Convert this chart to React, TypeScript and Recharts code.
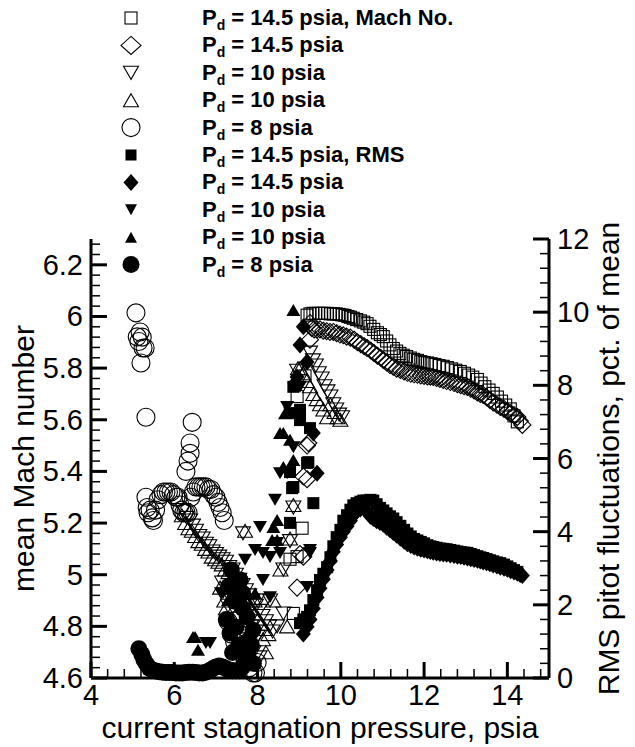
import React from "react";
import { ScatterChart, Scatter, XAxis, YAxis, Legend, Label } from "recharts";

type Pt = [number, number];

const FONT = "'Liberation Sans', Arial, Helvetica, sans-serif";

// current stagnation pressure (psia) vs mean Mach number
const machSq145: Pt[] = [
  [8.86, 4.85], [8.78, 5.06], [8.95, 5.07], [9.07, 5.18], [8.95, 5.69], [9.14, 5.77],
  [9.19, 6.005], [9.26, 6.01], [9.33, 6.012], [9.4, 6.012], [9.47, 6.012], [9.54, 6.012],
  [9.61, 6.012], [9.68, 6.012], [9.75, 6.01], [9.82, 6.01], [9.89, 6.01], [9.96, 6.008],
  [10.03, 6.006], [10.1, 6.004], [10.17, 6.0], [10.23, 5.997], [10.3, 5.993], [10.38, 5.988],
  [10.47, 5.983], [10.55, 5.978], [10.63, 5.972], [10.7, 5.962], [10.79, 5.95], [10.88, 5.937],
  [10.95, 5.93], [11.02, 5.922], [11.1, 5.905], [11.18, 5.89], [11.26, 5.876], [11.34, 5.866],
  [11.42, 5.857], [11.5, 5.85], [11.58, 5.845], [11.67, 5.839], [11.75, 5.834], [11.84, 5.83],
  [11.92, 5.825], [12.0, 5.822], [12.08, 5.82], [12.17, 5.817], [12.26, 5.814], [12.36, 5.81],
  [12.46, 5.807], [12.56, 5.802], [12.66, 5.797], [12.76, 5.792], [12.87, 5.787], [12.97, 5.78],
  [13.07, 5.773], [13.17, 5.765], [13.28, 5.756], [13.37, 5.742], [13.46, 5.728], [13.56, 5.715],
  [13.66, 5.702], [13.76, 5.688], [13.86, 5.672], [13.96, 5.657], [14.07, 5.642], [14.16, 5.615],
  [14.24, 5.592],
];

const machDi145: Pt[] = [
  [8.95, 4.95], [9.02, 5.08], [9.1, 5.07], [9.1, 5.38], [9.19, 5.37], [9.22, 5.51], [9.19, 5.5],
  [9.26, 5.91], [9.26, 5.975], [9.3, 5.955], [9.36, 5.95], [9.43, 5.95], [9.5, 5.95], [9.58, 5.945],
  [9.66, 5.943], [9.74, 5.94], [9.82, 5.94], [9.9, 5.935], [9.98, 5.93], [10.06, 5.927],
  [10.14, 5.922], [10.23, 5.918], [10.32, 5.91], [10.4, 5.9], [10.48, 5.893], [10.56, 5.885],
  [10.63, 5.878], [10.72, 5.868], [10.8, 5.858], [10.88, 5.848], [10.96, 5.84], [11.02, 5.832],
  [11.1, 5.822], [11.18, 5.812], [11.26, 5.805], [11.34, 5.798], [11.43, 5.793], [11.52, 5.787],
  [11.6, 5.782], [11.68, 5.778], [11.76, 5.776], [11.84, 5.774], [11.92, 5.772], [12.0, 5.77],
  [12.08, 5.768], [12.15, 5.767], [12.22, 5.766], [12.3, 5.762], [12.38, 5.758], [12.46, 5.754],
  [12.54, 5.75], [12.63, 5.746], [12.72, 5.742], [12.8, 5.738], [12.88, 5.734], [12.96, 5.73],
  [13.04, 5.727], [13.12, 5.72], [13.2, 5.713], [13.28, 5.706], [13.35, 5.7], [13.42, 5.696],
  [13.5, 5.687], [13.58, 5.677], [13.66, 5.667], [13.75, 5.658], [13.83, 5.65], [13.92, 5.642],
  [14.0, 5.633], [14.08, 5.625], [14.16, 5.618], [14.24, 5.611], [14.3, 5.595], [14.36, 5.58],
];

const machDn10: Pt[] = [
  [6.21, 5.25], [6.3, 5.22], [6.38, 5.21], [6.45, 5.19], [6.52, 5.17], [6.6, 5.15], [6.68, 5.14],
  [6.76, 5.12], [6.84, 5.11], [6.92, 5.09], [7.0, 5.08], [7.08, 5.07], [7.16, 5.06], [7.24, 5.05],
  [7.32, 5.03], [7.4, 5.02], [7.48, 5.0], [7.56, 4.98], [7.64, 4.96], [7.72, 4.94], [7.8, 4.92],
  [7.88, 4.9], [7.96, 4.88], [8.04, 4.86], [8.12, 4.84], [8.2, 4.82], [8.28, 4.8], [8.36, 4.78],
  [7.29, 4.88], [7.65, 5.16], [7.99, 4.9], [8.3, 4.9], [8.47, 4.8], [8.62, 5.02], [8.78, 5.13],
  [8.86, 5.26], [8.62, 4.85], [7.9, 4.7], [8.05, 4.68], [8.95, 5.79],
  [7.15, 4.97], [7.45, 4.9], [7.55, 4.83], [7.85, 4.8], [8.0, 4.76],
  [9.26, 5.86], [9.33, 5.83], [9.4, 5.81], [9.47, 5.78], [9.54, 5.76], [9.61, 5.73], [9.68, 5.71],
  [9.75, 5.69], [9.82, 5.66], [9.89, 5.64], [9.96, 5.62], [10.03, 5.61],
];

const machUp10: Pt[] = [
  [6.18, 5.23], [6.26, 5.2], [6.34, 5.18], [6.42, 5.17], [6.5, 5.15], [6.58, 5.13], [6.66, 5.12],
  [6.74, 5.1], [6.82, 5.09], [6.9, 5.07], [6.98, 5.06], [7.06, 5.05], [7.14, 5.04], [7.22, 5.02],
  [7.3, 5.01], [7.38, 4.99], [7.46, 4.97], [7.54, 4.95], [7.62, 4.93], [7.7, 4.91], [7.78, 4.89],
  [7.86, 4.87], [7.94, 4.85], [8.02, 4.83], [8.1, 4.81], [8.18, 4.79], [8.26, 4.77], [8.13, 4.75],
  [7.24, 4.87], [7.7, 5.17], [7.93, 4.9], [8.38, 4.9], [8.55, 5.02], [8.78, 5.14], [8.86, 5.27],
  [8.71, 4.8], [7.75, 4.72], [8.2, 4.7], [8.97, 5.8],
  [7.1, 4.95], [7.2, 4.9], [7.5, 4.85], [7.6, 4.8], [7.8, 4.78],
  [9.02, 5.8], [9.1, 5.78], [9.18, 5.75], [9.26, 5.73], [9.34, 5.7], [9.42, 5.68], [9.5, 5.66],
  [9.58, 5.64], [9.67, 5.61], [9.75, 5.66], [9.85, 5.63], [9.92, 5.61], [9.99, 5.6],
];

const machCi8: Pt[] = [
  [5.08, 6.014], [5.18, 5.94], [5.11, 5.921], [5.15, 5.903], [5.23, 5.92], [5.25, 5.878],
  [5.3, 5.878], [5.2, 5.82], [5.32, 5.61], [5.32, 5.3], [5.35, 5.26], [5.37, 5.24], [5.42, 5.25],
  [5.47, 5.22], [5.5, 5.21], [5.55, 5.25], [5.61, 5.29], [5.68, 5.31], [5.74, 5.32], [5.8, 5.32],
  [5.86, 5.32], [5.92, 5.32], [5.98, 5.31], [6.04, 5.3], [6.09, 5.3], [6.14, 5.27], [6.18, 5.25],
  [6.23, 5.24], [6.28, 5.24], [6.33, 5.24], [6.28, 5.4], [6.33, 5.44], [6.38, 5.47], [6.38, 5.51],
  [6.43, 5.59], [6.4, 5.3], [6.46, 5.32], [6.52, 5.34], [6.58, 5.34], [6.64, 5.34], [6.7, 5.34],
  [6.76, 5.34], [6.82, 5.33], [6.88, 5.33], [6.94, 5.31], [7.0, 5.3], [7.05, 5.28], [7.1, 5.26],
  [7.15, 5.24], [7.2, 5.21], [7.29, 4.82], [7.37, 4.77], [7.45, 4.74], [7.6, 4.7], [7.7, 4.67],
  [7.8, 4.64], [7.89, 4.62], [7.99, 4.66], [7.95, 4.62],
];

// current stagnation pressure (psia) vs RMS pitot fluctuations (pct. of mean)
const rmsSq145: Pt[] = [
  [8.86, 7.96], [8.95, 7.24], [9.02, 7.33], [9.02, 7.05], [9.26, 6.83], [9.19, 5.88], [9.22, 5.9],
  [8.78, 5.63], [8.83, 5.19], [8.86, 5.22], [9.34, 4.78], [8.78, 4.24],
  [9.02, 1.5], [9.1, 1.6], [9.19, 1.67], [9.26, 1.85], [9.34, 2.13], [9.43, 2.4], [9.5, 2.68],
  [9.58, 2.85], [9.67, 3.03], [9.75, 3.3], [9.82, 3.6], [9.9, 3.85], [9.99, 4.05], [10.06, 4.3],
  [10.15, 4.45], [10.23, 4.6], [10.3, 4.72], [10.38, 4.78], [10.47, 4.82], [10.54, 4.85],
  [10.62, 4.85], [10.71, 4.87], [10.78, 4.85], [10.86, 4.75], [10.94, 4.65], [11.02, 4.58],
  [11.1, 4.5], [11.18, 4.42], [11.26, 4.36], [11.34, 4.26], [11.43, 4.16], [11.52, 4.05],
  [11.6, 3.95], [11.68, 3.87], [11.76, 3.8], [11.84, 3.76], [11.92, 3.72], [12.0, 3.68],
  [12.08, 3.63], [12.15, 3.6], [12.22, 3.58], [12.3, 3.56], [12.38, 3.54], [12.46, 3.53],
  [12.54, 3.52], [12.63, 3.5], [12.72, 3.48], [12.8, 3.46], [12.88, 3.44], [12.96, 3.43],
  [13.04, 3.42], [13.12, 3.39], [13.2, 3.36], [13.28, 3.33], [13.35, 3.3], [13.42, 3.28],
  [13.5, 3.25], [13.58, 3.22], [13.66, 3.19], [13.75, 3.16], [13.83, 3.14], [13.92, 3.1],
  [14.0, 3.05], [14.08, 3.0], [14.16, 2.95], [14.24, 2.9],
];

const rmsDi145: Pt[] = [
  [9.1, 9.6], [9.02, 9.1], [9.19, 8.64], [8.95, 8.23], [8.9, 8.06], [9.34, 6.7], [9.43, 5.6],
  [9.1, 1.2], [9.19, 1.4], [9.26, 1.6], [9.34, 1.9], [9.43, 2.2], [9.5, 2.45], [9.58, 2.7],
  [9.67, 2.95], [9.75, 3.2], [9.82, 3.45], [9.9, 3.65], [9.99, 3.85], [10.06, 4.0], [10.15, 4.15],
  [10.23, 4.3], [10.3, 4.45], [10.38, 4.55], [10.47, 4.62], [10.54, 4.66], [10.62, 4.55],
  [10.71, 4.42], [10.78, 4.36], [10.86, 4.3], [10.94, 4.25], [11.02, 4.2], [11.1, 4.12],
  [11.18, 4.05], [11.26, 3.98], [11.34, 3.9], [11.43, 3.82], [11.52, 3.74], [11.6, 3.67],
  [11.68, 3.62], [11.76, 3.58], [11.84, 3.55], [11.92, 3.52], [12.0, 3.5], [12.08, 3.48],
  [12.15, 3.46], [12.22, 3.44], [12.3, 3.42], [12.38, 3.4], [12.46, 3.39], [12.54, 3.38],
  [12.63, 3.36], [12.72, 3.35], [12.8, 3.33], [12.88, 3.32], [12.96, 3.3], [13.04, 3.28],
  [13.12, 3.26], [13.2, 3.24], [13.28, 3.22], [13.35, 3.2], [13.42, 3.17], [13.5, 3.15],
  [13.58, 3.12], [13.66, 3.09], [13.75, 3.06], [13.83, 3.03], [13.92, 3.0], [14.0, 2.97],
  [14.08, 2.93], [14.16, 2.9], [14.24, 2.86], [14.31, 2.83], [14.36, 2.8],
];

const rmsDn10: Pt[] = [
  [8.42, 4.87], [8.06, 4.13], [9.26, 3.42], [8.71, 7.41], [8.54, 5.6], [9.26, 3.5], [8.54, 3.42],
  [7.17, 2.32], [6.86, 0.96], [6.76, 0.96], [8.78, 7.24], [8.86, 6.31], [8.71, 5.6], [8.3, 3.31],
  [8.47, 3.69], [8.13, 2.68], [8.13, 3.42], [8.3, 2.21], [9.19, 2.49], [9.02, 7.96], [7.7, 3.23],
  [7.12, 2.32], [7.94, 3.5],
];

const rmsUp10: Pt[] = [
  [8.86, 10.06], [8.66, 7.24], [8.62, 6.7], [8.86, 5.96], [8.47, 4.32], [8.35, 3.77], [6.5, 1.12],
  [6.57, 0.77], [8.78, 6.51], [8.54, 6.7], [8.38, 4.13], [8.47, 3.77], [6.45, 1.12], [8.62, 5.77],
  [7.29, 2.13], [7.94, 2.32],
];

const rmsCi8: Pt[] = [
  [5.15, 0.8], [5.22, 0.65], [5.27, 0.5], [5.33, 0.38], [5.4, 0.27], [5.48, 0.22], [5.56, 0.19],
  [5.64, 0.17], [5.72, 0.16], [5.8, 0.15], [5.88, 0.15], [5.96, 0.15], [6.04, 0.14], [6.12, 0.14],
  [6.2, 0.14], [6.28, 0.15], [6.36, 0.16], [6.44, 0.16], [6.52, 0.15], [6.6, 0.14], [6.68, 0.14],
  [6.76, 0.16], [6.84, 0.2], [6.92, 0.25], [7.0, 0.3], [7.08, 0.33], [7.16, 0.3], [7.24, 0.26],
  [7.32, 0.22], [7.4, 0.2], [7.48, 0.2], [7.56, 0.2], [7.64, 0.3], [7.71, 0.45], [7.77, 0.68],
  [7.75, 1.0], [7.75, 1.67], [7.64, 2.32], [7.58, 2.68], [7.37, 2.95], [7.34, 1.23], [7.48, 1.39],
  [7.89, 1.31], [7.3, 2.5], [7.45, 2.1], [7.25, 1.6], [7.4, 0.7], [7.55, 0.9], [7.65, 1.9],
  [7.85, 0.9], [7.9, 0.4],
];

// axis tick labels
const xMajor = [4, 6, 8, 10, 12, 14];
const machMajor = [4.6, 4.8, 5, 5.2, 5.4, 5.6, 5.8, 6, 6.2];
const rmsMajor = [0, 2, 4, 6, 8, 10, 12];

type Kind = "square" | "diamond" | "triDown" | "triUp" | "circle";

interface SeriesDef {
  name: string;
  points: Pt[];
  kind: Kind;
  filled: boolean;
  axis: "mach" | "rms";
}

const series: SeriesDef[] = [
  { name: " = 14.5 psia, Mach No.", points: machSq145, kind: "square", filled: false, axis: "mach" },
  { name: " = 14.5 psia", points: machDi145, kind: "diamond", filled: false, axis: "mach" },
  { name: " = 10 psia", points: machDn10, kind: "triDown", filled: false, axis: "mach" },
  { name: " = 10 psia", points: machUp10, kind: "triUp", filled: false, axis: "mach" },
  { name: " = 8 psia", points: machCi8, kind: "circle", filled: false, axis: "mach" },
  { name: " = 14.5 psia, RMS", points: rmsSq145, kind: "square", filled: true, axis: "rms" },
  { name: " = 14.5 psia", points: rmsDi145, kind: "diamond", filled: true, axis: "rms" },
  { name: " = 10 psia", points: rmsDn10, kind: "triDown", filled: true, axis: "rms" },
  { name: " = 10 psia", points: rmsUp10, kind: "triUp", filled: true, axis: "rms" },
  { name: " = 8 psia", points: rmsCi8, kind: "circle", filled: true, axis: "rms" },
];

function buildTicks(min: number, max: number, step: number) {
  const out: number[] = [];
  for (let i = 0; min + i * step <= max + 1e-9; i++) {
    out.push(Math.round((min + i * step) * 1000) / 1000);
  }
  return out;
}

const xTicks = buildTicks(4, 14.8, 0.4);
const machTicks = buildTicks(4.6, 6.28, 0.04);
const rmsTicks = buildTicks(0, 12, 0.4);

const isMajor = (v: number, majors: number[]) => majors.some((m) => Math.abs(m - v) < 1e-6);

const TICK_FONT = 29;

// marker sizes: [width, height]
const plotSize: Record<Kind, [number, number]> = {
  square: [12, 12],
  diamond: [17, 17],
  triDown: [15, 13],
  triUp: [15, 13],
  circle: [18, 18],
};
const solidSize: Record<Kind, [number, number]> = {
  square: [12, 12],
  diamond: [15, 17],
  triDown: [14, 12],
  triUp: [14, 12],
  circle: [17, 17],
};

function Marker({ cx, cy, kind, filled, w, h }: { cx: number; cy: number; kind: Kind; filled: boolean; w: number; h: number }) {
  const paint = filled
    ? { fill: "#000", stroke: "none" }
    : { fill: "none", stroke: "#000", strokeWidth: 1.1 };
  const hw = w / 2;
  const hh = h / 2;
  switch (kind) {
    case "square":
      return <rect x={cx - hw} y={cy - hh} width={w} height={h} {...paint} />;
    case "diamond":
      return <polygon points={`${cx},${cy - hh} ${cx + hw},${cy} ${cx},${cy + hh} ${cx - hw},${cy}`} {...paint} />;
    case "triUp":
      return <polygon points={`${cx},${cy - hh} ${cx + hw},${cy + hh} ${cx - hw},${cy + hh}`} {...paint} />;
    case "triDown":
      return <polygon points={`${cx - hw},${cy - hh} ${cx + hw},${cy - hh} ${cx},${cy + hh}`} {...paint} />;
    default:
      return <circle cx={cx} cy={cy} r={hw} {...paint} />;
  }
}

function BottomTick(props: any) {
  const { x, y, payload } = props;
  const major = isMajor(payload.value, xMajor);
  return (
    <g>
      <line x1={x} x2={x} y1={y} y2={y - (major ? 16 : 9)} stroke="#000" strokeWidth={major ? 3 : 1.5} />
      {major && (
        <text x={x} y={y + 27} textAnchor="middle" fontSize={TICK_FONT} fontFamily={FONT} fill="#000">
          {payload.value}
        </text>
      )}
    </g>
  );
}

function LeftTick(props: any) {
  const { x, y, payload } = props;
  const major = isMajor(payload.value, machMajor);
  return (
    <g>
      <line x1={x} x2={x + (major ? 16 : 9)} y1={y} y2={y} stroke="#000" strokeWidth={major ? 3 : 1.5} />
      {major && (
        <text x={x - 8} y={y + 10} textAnchor="end" fontSize={TICK_FONT} fontFamily={FONT} fill="#000">
          {payload.value}
        </text>
      )}
    </g>
  );
}

function RightTick(props: any) {
  const { x, y, payload } = props;
  const major = isMajor(payload.value, rmsMajor);
  return (
    <g>
      <line x1={x} x2={x - (major ? 16 : 9)} y1={y} y2={y} stroke="#000" strokeWidth={major ? 3 : 1.5} />
      {major && (
        <text x={x + 8} y={y + 10} textAnchor="start" fontSize={TICK_FONT} fontFamily={FONT} fill="#000">
          {payload.value}
        </text>
      )}
    </g>
  );
}

const legendSize: Record<Kind, [number, number]> = {
  square: [12, 12],
  diamond: [20, 18],
  triDown: [15, 13],
  triUp: [15, 13],
  circle: [18, 18],
};
const legendSolidSize: Record<Kind, [number, number]> = {
  square: [11, 11],
  diamond: [15, 17],
  triDown: [12, 11],
  triUp: [12, 11],
  circle: [17, 17],
};

function LegendBlock() {
  const rowGap = 27.4;
  const firstRow = 18;
  return (
    <svg width={480} height={290} style={{ overflow: "visible", display: "block" }}>
      {series.map((s, i) => {
        const cy = firstRow + i * rowGap;
        const [w, h] = s.filled ? legendSolidSize[s.kind] : legendSize[s.kind];
        return (
          <g key={i}>
            <Marker cx={131} cy={cy} kind={s.kind} filled={s.filled} w={w} h={h} />
            <text x={202} y={cy + 7} fontSize={22} fontWeight="bold" fontFamily={FONT} fill="#000">
              P
              <tspan dy={5} fontSize={14}>d</tspan>
              <tspan dy={-5}>{s.name}</tspan>
            </text>
          </g>
        );
      })}
    </svg>
  );
}

export default function App() {
  return (
    <div style={{ position: "absolute", left: 0, top: 0, background: "#fff" }}>
      <ScatterChart width={635} height={747} margin={{ top: 239, right: 26, bottom: 29, left: 31 }}>
        <XAxis
          type="number"
          dataKey="x"
          domain={[4, 15]}
          ticks={xTicks}
          interval={0}
          tickSize={0}
          tickMargin={0}
          tick={BottomTick}
          tickLine={false}
          axisLine={{ stroke: "#000", strokeWidth: 3 }}
          height={40}
        >
          <Label
            content={(p: any) => {
              const vb = p.viewBox;
              return (
                <text x={vb.x + vb.width / 2} y={vb.y + 60} textAnchor="middle" fontSize={30} fontFamily={FONT} fill="#000">
                  current stagnation pressure, psia
                </text>
              );
            }}
          />
        </XAxis>
        <YAxis
          yAxisId="mach"
          type="number"
          dataKey="y"
          orientation="left"
          domain={[4.6, 6.3]}
          ticks={machTicks}
          interval={0}
          tickSize={0}
          tickMargin={0}
          tick={LeftTick}
          tickLine={false}
          axisLine={{ stroke: "#000", strokeWidth: 3 }}
          width={60}
        >
          <Label
            content={(p: any) => {
              const vb = p.viewBox;
              const cx = vb.x + 3;
              const cy = vb.y + vb.height / 2;
              return (
                <text transform={`translate(${cx},${cy}) rotate(-90)`} textAnchor="middle" fontSize={30} fontFamily={FONT} fill="#000">
                  mean Mach number
                </text>
              );
            }}
          />
        </YAxis>
        <YAxis
          yAxisId="rms"
          type="number"
          dataKey="y"
          orientation="right"
          domain={[0, 12]}
          ticks={rmsTicks}
          interval={0}
          tickSize={0}
          tickMargin={0}
          tick={RightTick}
          tickLine={false}
          axisLine={{ stroke: "#000", strokeWidth: 3 }}
          width={60}
        >
          <Label
            content={(p: any) => {
              const vb = p.viewBox;
              const cx = vb.x + 70;
              const cy = vb.y + vb.height / 2;
              return (
                <text transform={`translate(${cx},${cy}) rotate(-90)`} textAnchor="middle" fontSize={30} fontFamily={FONT} fill="#000">
                  RMS pitot fluctuations, pct. of mean
                </text>
              );
            }}
          />
        </YAxis>
        {series.map((s, i) => {
          const [w, h] = s.filled ? solidSize[s.kind] : plotSize[s.kind];
          return (
            <Scatter
              key={i}
              name={`series-${i}`}
              yAxisId={s.axis}
              data={s.points.map(([x, y]) => ({ x, y }))}
              isAnimationActive={false}
              shape={(p: any) => <Marker cx={p.cx} cy={p.cy} kind={s.kind} filled={s.filled} w={w} h={h} />}
            />
          );
        })}
        <Legend
          layout="horizontal"
          verticalAlign="middle"
          align="center"
          wrapperStyle={{ left: 0, top: 0, width: 480 }}
          content={() => <LegendBlock />}
        />
      </ScatterChart>
    </div>
  );
}
